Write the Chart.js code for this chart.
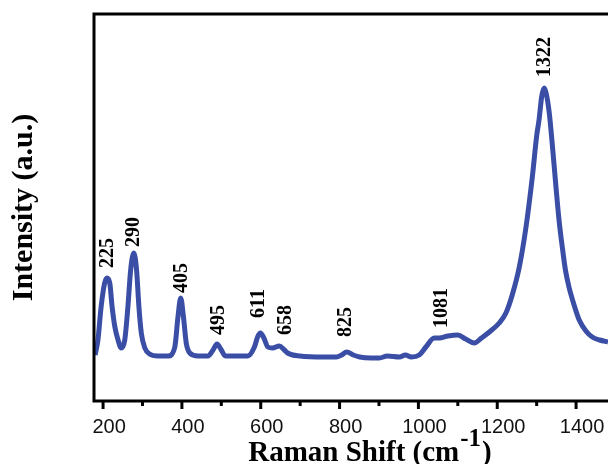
<!DOCTYPE html>
<html>
<head>
<meta charset="utf-8">
<script src="https://cdn.jsdelivr.net/npm/chart.js@4"></script>
<style>
html,body{margin:0;padding:0;background:#fff;overflow:hidden}
#wrap{position:relative;width:608px;height:464px}
</style>
</head>
<body>
<div id="wrap"><canvas id="c"></canvas></div>
<script>
// Raman shift (cm-1)
const shift = [180,187,195,204,210,217,223,230,238,246,255,263,270,278,285,291,297,306,318,339,365,382,390,397,404,411,420,441,466,479,489,500,510,567,584,592,599,608,618,630,647,660,668,699,760,792,805,818,835,851,880,901,921,952,967,982,1002,1019,1040,1053,1075,1100,1120,1142,1160,1180,1205,1222,1238,1256,1273,1289,1300,1306,1313,1319,1324,1332,1340,1349,1357,1365,1373,1382,1395,1408,1425,1441,1460,1481];
// Intensity (a.u.)
const intensity = [46,61,94,118,123,118,94,74,61,53,61,94,131,148,131,94,68,53,47,45,45,54,84,103,84,58,48,45,45,51,57,51,45,45,54,64,68,63,54,53,55,51,48,45,44,44,46,49,46,44,43,43,45,44,46,44,46,54,63,63,65,66,62,58,63,69,78,88,106,134,174,224,265,281,305,313,308,288,255,214,180,154,131,114,96,81,70,64,61,59];
// Peak annotations
const peakText = ["225","290","405","495","611","658","825","1081","1322"];
const peakAtX  = [210,276,397,491,592,661,813,1056,1319];
const peakAtY  = [133,154,108,66,83,66,64,73,324];
// Axis ticks
const xMin = 177, xMax = 1481, yMin = 0, yMax = 387;
const xLabels = [200,400,600,800,1000,1200,1400];
const xMinor = [300,500,700,900,1100,1300];

const points = shift.map((x,i)=>({x:x,y:intensity[i]}));

const deco = {
  id:'deco',
  afterDraw(chart){
    const ctx = chart.ctx, a = chart.chartArea;
    const xs = chart.scales.x, ys = chart.scales.y;
    ctx.save();
    ctx.strokeStyle = '#000'; ctx.lineWidth = 3; ctx.lineCap='square';
    ctx.beginPath();
    ctx.moveTo(a.right+5, a.top); ctx.lineTo(a.left, a.top);
    ctx.lineTo(a.left, a.bottom); ctx.lineTo(a.right+5, a.bottom);
    ctx.stroke();
    ctx.lineCap='butt';
    xLabels.forEach(v=>{const px=xs.getPixelForValue(v);ctx.beginPath();ctx.moveTo(px,a.bottom);ctx.lineTo(px,a.bottom+8);ctx.stroke();});
    xMinor.forEach(v=>{const px=xs.getPixelForValue(v);ctx.beginPath();ctx.moveTo(px,a.bottom);ctx.lineTo(px,a.bottom+5);ctx.stroke();});
    ctx.fillStyle = '#000';
    ctx.font = 'bold 20px "Liberation Serif"';
    ctx.textAlign = 'left'; ctx.textBaseline = 'middle';
    peakText.forEach((t,i)=>{
      const px = xs.getPixelForValue(peakAtX[i]);
      const py = ys.getPixelForValue(peakAtY[i]);
      ctx.save(); ctx.translate(px, py); ctx.rotate(-Math.PI/2);
      ctx.fillText(t, 0, 1); ctx.restore();
    });
    ctx.textBaseline = 'alphabetic';
    const main = 'Raman Shift (cm', sup = '-1', close = ')';
    ctx.font = 'bold 29px "Liberation Serif"';
    const w1 = ctx.measureText(main).width, w3 = ctx.measureText(close).width;
    ctx.font = 'bold 25px "Liberation Serif"';
    const w2 = ctx.measureText(sup).width;
    const total = w1+w2+w3;
    let x0 = 369 - total/2, base = 461;
    ctx.font = 'bold 29px "Liberation Serif"';
    ctx.fillText(main, x0, base);
    ctx.font = 'bold 25px "Liberation Serif"';
    ctx.fillText(sup, x0+w1+1, base-15);
    ctx.font = 'bold 29px "Liberation Serif"';
    ctx.fillText(close, x0+w1+w2+2, base);
    ctx.restore();
  }
};

new Chart(document.getElementById('c'), {
  type:'line',
  data:{datasets:[{data:points, borderColor:'#3a4ea6', borderWidth:5, pointRadius:0, cubicInterpolationMode:'monotone', fill:false}]},
  options:{
    responsive:true, maintainAspectRatio:false, animation:false,
    layout:{padding:{top:14,right:0,left:0,bottom:0}},
    plugins:{legend:{display:false}, tooltip:{enabled:false}},
    scales:{
      x:{type:'linear', min:xMin, max:xMax, border:{display:false}, grid:{display:false, drawTicks:false},
        afterBuildTicks(s){ s.ticks = xLabels.map(v=>({value:v})); },
        afterFit(s){ s.height = 63; s.paddingLeft = 0; s.paddingRight = 0; },
        ticks:{autoSkip:false, maxRotation:0, minRotation:0, padding:14, labelOffset:6, color:'#111',
          font:{family:'"Liberation Sans"', size:20},
          callback:(v)=> String(v)}},
      y:{min:yMin, max:yMax, border:{display:false}, grid:{display:false},
        afterFit(s){ s.width = 94; },
        ticks:{display:false},
        title:{display:true, text:'Intensity (a.u.)', color:'#000', padding:{top:6,bottom:0},
          font:{family:'"Liberation Serif"', size:30, weight:'bold'}}}
    }
  },
  plugins:[deco]
});
</script>
</body>
</html>
